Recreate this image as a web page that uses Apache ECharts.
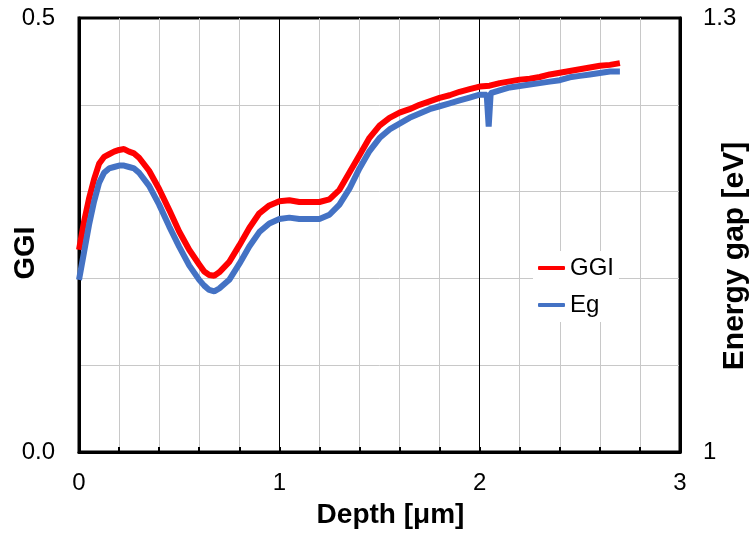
<!DOCTYPE html>
<html>
<head>
<meta charset="utf-8">
<script src="https://cdn.jsdelivr.net/npm/echarts@6/dist/echarts.min.js"></script>
<style>html,body{margin:0;padding:0;background:#fff}#c{width:753px;height:537px}</style>
</head>
<body>
<div id="c"></div>
<script>
const depthGGI = [0,0.025,0.05,0.075,0.1,0.125,0.15,0.175,0.2,0.225,0.25,0.275,0.3,0.35,0.4,0.45,0.5,0.55,0.6,0.625,0.65,0.675,0.7,0.75,0.8,0.85,0.9,0.95,1.0,1.05,1.1,1.15,1.2,1.25,1.3,1.35,1.4,1.45,1.5,1.55,1.6,1.65,1.7,1.75,1.8,1.85,1.9,1.95,2.0,2.05,2.1,2.15,2.2,2.25,2.3,2.35,2.4,2.45,2.5,2.55,2.6,2.65,2.7];
const ggi = [0.233,0.265,0.292,0.314,0.332,0.340,0.343,0.346,0.348,0.349,0.346,0.344,0.339,0.324,0.303,0.279,0.254,0.233,0.216,0.208,0.204,0.203,0.207,0.219,0.238,0.258,0.275,0.284,0.289,0.290,0.288,0.288,0.288,0.291,0.302,0.322,0.342,0.362,0.376,0.385,0.391,0.395,0.400,0.404,0.408,0.411,0.415,0.418,0.421,0.422,0.425,0.427,0.429,0.430,0.432,0.435,0.437,0.439,0.441,0.443,0.445,0.446,0.448];
const depthEg = [0,0.025,0.05,0.075,0.1,0.125,0.15,0.175,0.2,0.225,0.25,0.275,0.3,0.35,0.4,0.45,0.5,0.55,0.6,0.625,0.65,0.675,0.7,0.75,0.8,0.85,0.9,0.95,1.0,1.05,1.1,1.15,1.2,1.25,1.3,1.35,1.4,1.45,1.5,1.55,1.6,1.65,1.7,1.75,1.8,1.85,1.9,1.95,2.0,2.035,2.045,2.055,2.1,2.15,2.2,2.25,2.3,2.35,2.4,2.45,2.5,2.55,2.6,2.65,2.7];
const eg = [1.119,1.138,1.157,1.173,1.186,1.193,1.196,1.197,1.198,1.198,1.197,1.196,1.193,1.184,1.171,1.156,1.142,1.129,1.119,1.115,1.112,1.111,1.113,1.119,1.130,1.142,1.152,1.158,1.161,1.162,1.161,1.161,1.161,1.164,1.171,1.182,1.196,1.208,1.217,1.223,1.227,1.231,1.234,1.237,1.239,1.241,1.243,1.245,1.247,1.247,1.225,1.248,1.250,1.252,1.253,1.254,1.255,1.256,1.257,1.259,1.260,1.261,1.262,1.263,1.263];
const xTickLabels = ['0','1','2','3'];
const ggiTickLabels = ['0.0','0.5'];
const egTickLabels = ['1','1.3'];

const font = '"Liberation Sans", Arial, sans-serif';
const chart = echarts.init(document.getElementById('c'), null, {renderer: 'canvas'});
chart.setOption({
  animation: false,
  backgroundColor: '#fff',
  grid: {left: 79, right: 73, top: 18, bottom: 85, containLabel: false, outerBoundsMode: 'none',
    show: true, borderColor: '#000', borderWidth: 3, backgroundColor: 'transparent'},
  legend: {
    orient: 'vertical', left: 533, top: 251, padding: 5, itemGap: 13,
    backgroundColor: '#fff', itemWidth: 27, itemHeight: 4, icon: 'roundRect',
    textStyle: {fontFamily: font, fontSize: 24, color: '#000'},
    data: ['GGI', 'Eg']
  },
  xAxis: {
    type: 'value', min: 0, max: 3, interval: 1,
    name: 'Depth [μm]', nameLocation: 'middle', nameGap: 49, nameMoveOverlap: false,
    nameTextStyle: {fontFamily: font, fontSize: 28, fontWeight: 'bold', color: '#000', padding: [0, 0, 0, 22]},
    axisLine: {show: true, lineStyle: {color: '#000', width: 3}},
    axisTick: {show: true, inside: true, length: 5, lineStyle: {color: '#000', width: 2}},
    minorTick: {show: true, splitNumber: 5, length: 5, lineStyle: {color: '#000', width: 2}},
    axisLabel: {margin: 19, fontFamily: font, fontSize: 24, color: '#000',
      formatter: v => xTickLabels[Math.round(v)]},
    splitLine: {show: true, showMinLine: false, showMaxLine: false, lineStyle: {color: '#000', width: 1}},
    minorSplitLine: {show: true, lineStyle: {color: '#c8c8c8', width: 1}}
  },
  yAxis: [{
    type: 'value', min: 0, max: 0.5, interval: 0.1,
    name: 'GGI', nameLocation: 'middle', nameGap: 39, nameRotate: 90, nameMoveOverlap: false,
    nameTextStyle: {fontFamily: font, fontSize: 29, fontWeight: 'bold', color: '#000', padding: [0, 36, 0, 0]},
    axisLine: {show: true, lineStyle: {color: '#000', width: 3}},
    axisTick: {show: false},
    axisLabel: {margin: 24, fontFamily: font, fontSize: 24, color: '#000',
      formatter: v => (Math.abs(v) < 1e-9 ? ggiTickLabels[0] : (Math.abs(v - 0.5) < 1e-9 ? ggiTickLabels[1] : ''))},
    splitLine: {show: true, showMinLine: false, showMaxLine: false, lineStyle: {color: '#c8c8c8', width: 1}}
  }, {
    type: 'value', min: 1, max: 1.3, interval: 0.3,
    name: 'Energy gap [eV]', nameLocation: 'middle', nameGap: 40, nameRotate: 90, nameMoveOverlap: false,
    nameTextStyle: {fontFamily: font, fontSize: 30, fontWeight: 'bold', color: '#000', padding: [0, 42, 0, 0]},
    axisLine: {show: true, lineStyle: {color: '#000', width: 3}},
    axisTick: {show: false},
    axisLabel: {margin: 23, fontFamily: font, fontSize: 24, color: '#000',
      formatter: v => (Math.abs(v - 1) < 1e-9 ? egTickLabels[0] : (Math.abs(v - 1.3) < 1e-9 ? egTickLabels[1] : ''))},
    splitLine: {show: false}
  }],
  series: [{
    name: 'GGI', type: 'line', yAxisIndex: 0, showSymbol: false, symbol: 'none',
    data: depthGGI.map((d, i) => [d, ggi[i]]),
    lineStyle: {color: '#ff0000', width: 6}, itemStyle: {color: '#ff0000'}
  }, {
    name: 'Eg', type: 'line', yAxisIndex: 1, showSymbol: false, symbol: 'none',
    data: depthEg.map((d, i) => [d, eg[i]]),
    lineStyle: {color: '#4472c4', width: 6}, itemStyle: {color: '#4472c4'}
  }]
});
</script>
</body>
</html>
